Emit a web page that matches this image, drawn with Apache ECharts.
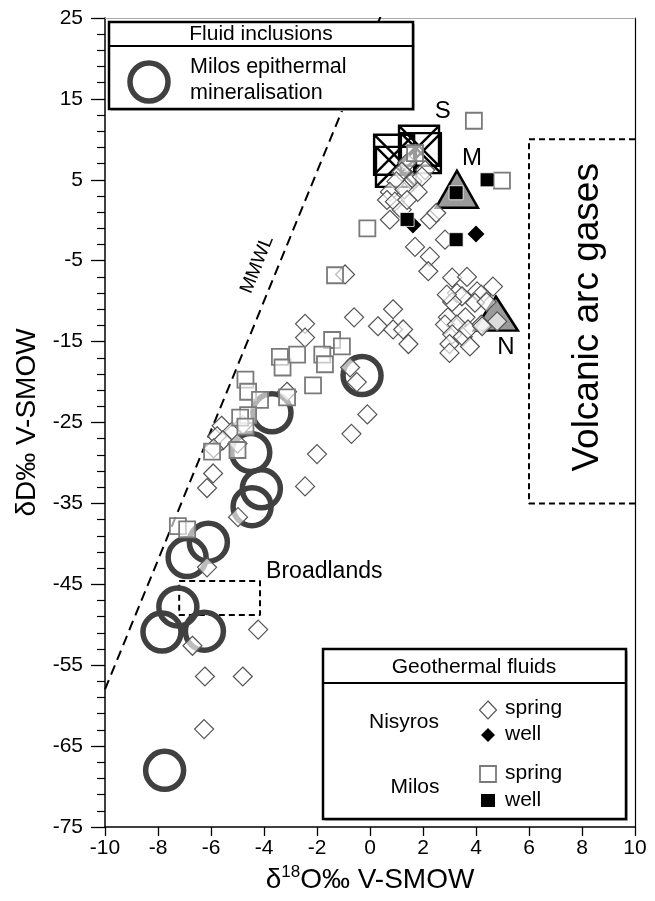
<!DOCTYPE html>
<html><head><meta charset="utf-8">
<script src="https://cdn.jsdelivr.net/npm/echarts@6/dist/echarts.min.js"></script>
<style>html,body{margin:0;padding:0;background:#fff}#c{width:655px;height:901px}</style>
</head><body><div id="c"></div>
<script>
// ---- data ----
const xTickLabels = [-10,-8,-6,-4,-2,0,2,4,6,8,10];
const yTickLabels = [-75,-65,-55,-45,-35,-25,-15,-5,5,15,25];

const fluidInclusions = [[-0.3,-19.2],[-3.7,-23.8],[-4.5,-28.7],[-4.1,-33.2],[-4.45,-35.4],[-6.1,-39.8],[-6.9,-41.7],[-7.25,-47.8],[-7.85,-50.9],[-6.25,-50.8],[-7.75,-68]];

const nisyrosSpring = [
 [1.4,7.1],[1.2,6.0],[2.08,6.2],[1.0,4.8],[1.6,4.8],[1.96,5.4],[0.75,3.5],[1.3,3.8],[1.8,3.5],[0.64,2.5],[0.94,2.3],[1.2,1.3],[1.4,2.5],[0.75,0.06],[2.26,0.06],[2.5,0.9],
 [2.83,-2.4],[1.7,-3.3],[2.26,-4.5],[2.2,-6.3],[-0.94,-6.7],[3.1,-7.1],[3.66,-7.0],[4.64,-8.2],[3.28,-9.0],[3.47,-9.4],[4.04,-8.8],[4.2,-9.2],[3.1,-10.1],[3.96,-10.2],[4.4,-10.1],[2.9,-9.2],
 [2.94,-12.0],[2.83,-12.9],[3.6,-12.0],[3.28,-12.9],[4.2,-12.9],[4.8,-12.5],[3.1,-14.1],[3.5,-14.4],[3.7,-13.5],[3.0,-15.3],[3.77,-15.6],[3.0,-16.4],[4.23,-13.1],
 [-0.6,-12.0],[0.87,-11.0],[0.3,-13.1],[0.87,-13.5],[1.25,-13.5],[1.45,-15.3],
 [-0.75,-18.2],[-0.5,-20.0],[-0.1,-24.0],[-0.7,-26.4],
 [-2.45,-12.8],[-2.45,-14.5],[-3.13,-21.2],[-2.0,-28.9],[-5.6,-25.4],[-5.2,-26.1],[-5.77,-26.7],[-4.8,-25.3],[-5.55,-27.2],[-5.0,-27.6],[-5.9,-28.2],
 [-5.92,-31.3],[-6.15,-33.1],[-2.45,-32.9],[-4.98,-36.7],[-6.15,-42.9],[-6.7,-52.6],[-4.22,-50.6],[-6.23,-56.4],[-4.8,-56.4],[-6.26,-62.9]
];
const nisyrosWell = [[1.62,-0.6],[4.0,-1.7]];
const milosSpring = [
 [3.92,12.3],[1.7,8.3],[4.98,4.9],[-0.1,-1.0],[-1.32,-6.8],
 [-3.4,-16.9],[-3.3,-18.2],[-2.75,-16.6],[-1.43,-14.8],[-1.8,-16.6],[-1.7,-17.8],[-1.06,-15.6],[-2.15,-20.4],[-3.13,-21.9],
 [-4.7,-19.7],[-4.6,-21.2],[-4.15,-22.2],[-4.6,-24.1],[-4.9,-24.4],[-4.7,-25.5],[-5.0,-28.4],[-5.96,-28.6],
 [-7.25,-37.8],[-6.9,-38.2]
];
const milosWell = [[4.42,5.0],[3.25,3.4],[1.4,0.1],[3.25,-2.4]];

const sSymbols = [[0.91,8.1],[0.98,6.6],[1.85,9.2],[1.92,8.3]];
const mTriangle = [[3.28,3.83]];
const nTriangle = [[4.75,-11.54]];
const mmwlLine = [[-10,-58],[0.4,25.2]];
const broadlandsBox = [[-7.2,-44.6],[-4.15,-44.6],[-4.15,-48.8],[-7.2,-48.8],[-7.2,-44.6]];
const volcanicBox = [[10,10],[6,10],[6,-35],[10,-35]];

const FONT = 'Liberation Sans, Arial, sans-serif';
const annotations = [
 {value:[2.75,13.4], text:'S', size:24, rotate:0, align:'center'},
 {value:[3.85,7.7], text:'M', size:24, rotate:0, align:'center'},
 {value:[5.13,-15.7], text:'N', size:24, rotate:0, align:'center'},
 {value:[-4.26,-5.5], text:'MMWL', size:19, rotate:68, align:'center'},
 {value:[-3.92,-43.4], text:'Broadlands', size:23, rotate:0, align:'left'},
 {value:[8.2,-12.0], text:'Volcanic arc gases', size:37, rotate:90, align:'center'}
];

const ringStyle = {color:'rgba(0,0,0,0)', borderColor:'#404040', borderWidth:5.5, opacity:1};
const openDiamond = {color:'rgba(255,255,255,0.65)', borderColor:'#555', borderWidth:1.2, opacity:1};
const openSquare = {color:'rgba(255,255,255,0.6)', borderColor:'#7a7a7a', borderWidth:1.8, opacity:1};

const chart = echarts.init(document.getElementById('c'), null, {renderer:'canvas'});
const option = {
  animation:false,
  backgroundColor:'#fff',
  grid:{left:105, right:20, top:18, bottom:74, containLabel:false, outerBoundsMode:'none'},
  xAxis:[{
    type:'value', min:-10, max:10, interval:2,
    name:'{a|δ}{s|18}{a|O‰ V-SMOW}', nameLocation:'middle', nameGap:36,
    nameTextStyle:{rich:{a:{fontSize:28, fontFamily:FONT, color:'#000', lineHeight:32}, s:{fontSize:17, fontFamily:FONT, color:'#000', verticalAlign:'top', lineHeight:20}}},
    axisLine:{onZero:false, lineStyle:{color:'#000', width:1.5}},
    axisTick:{inside:false, length:9, lineStyle:{color:'#000', width:1.3}},
    axisLabel:{fontSize:21, fontFamily:FONT, color:'#000', margin:11, formatter:v=>String(v)},
    splitLine:{show:false}
  },{
    type:'value', min:-10, max:10, position:'top',
    axisLine:{onZero:false, lineStyle:{color:'#aaa', width:1}},
    axisTick:{show:false}, axisLabel:{show:false}, splitLine:{show:false}
  }],
  yAxis:[{
    type:'value', min:-75, max:25, interval:10,
    name:'δD‰ V-SMOW', nameLocation:'middle', nameGap:64,
    nameTextStyle:{fontSize:28, fontFamily:FONT, color:'#000'},
    axisLine:{onZero:false, lineStyle:{color:'#000', width:1.5}},
    axisTick:{length:14, lineStyle:{color:'#000', width:1.3}},
    minorTick:{show:true, splitNumber:5, length:8, lineStyle:{color:'#000', width:1.2}},
    axisLabel:{fontSize:21, fontFamily:FONT, color:'#000', margin:22},
    splitLine:{show:false}, minorSplitLine:{show:false}
  },{
    type:'value', min:-75, max:25, position:'right',
    axisLine:{onZero:false, lineStyle:{color:'#000', width:1.2}},
    axisTick:{show:false}, axisLabel:{show:false}, splitLine:{show:false}
  }],
  series:[
    {type:'line', data:mmwlLine, symbol:'none', silent:true, lineStyle:{color:'#000', width:2, type:[10,6]}, z:1},
    {type:'line', data:broadlandsBox, symbol:'none', silent:true, lineStyle:{color:'#000', width:2, type:[6,4]}, z:1},
    {type:'line', data:volcanicBox, symbol:'none', silent:true, lineStyle:{color:'#000', width:2, type:[6,4]}, z:1},
    {type:'scatter', name:'Fluid inclusions', data:fluidInclusions, symbol:'circle', symbolSize:38, itemStyle:ringStyle, z:2},
    {type:'scatter', data:mTriangle, symbol:'triangle', symbolSize:[42,37], itemStyle:{color:'#9a9a9a', borderColor:'#000', borderWidth:2.5, opacity:1}, z:3},
    {type:'scatter', data:nTriangle, symbol:'triangle', symbolSize:[44,34], itemStyle:{color:'#9a9a9a', borderColor:'#000', borderWidth:2.5, opacity:1}, z:3},
    {type:'scatter', data:sSymbols, symbol:'path://M0,0H10V10H0Z M0,0L10,10 M10,0L0,10', symbolSize:[40,40], itemStyle:{color:'rgba(0,0,0,0)', borderColor:'#000', borderWidth:2.4, opacity:1}, z:3},
    {type:'scatter', name:'Nisyros spring', data:nisyrosSpring, symbol:'diamond', symbolSize:19, itemStyle:openDiamond, z:4},
    {type:'scatter', name:'Milos spring', data:milosSpring, symbol:'rect', symbolSize:16, itemStyle:openSquare, z:5},
    {type:'scatter', name:'Nisyros well', data:nisyrosWell, symbol:'diamond', symbolSize:17, itemStyle:{color:'#000', opacity:1}, z:6},
    {type:'scatter', name:'Milos well', data:milosWell, symbol:'rect', symbolSize:14, itemStyle:{color:'#000', borderColor:'#fff', borderWidth:0.8, opacity:1}, z:6},
    {type:'scatter', data:annotations.map(a=>({value:a.value, label:{show:true, formatter:a.text, fontSize:a.size, rotate:a.rotate, align:a.align, color:'#000'}})),
      symbol:'circle', symbolSize:1, itemStyle:{color:'rgba(0,0,0,0)', opacity:1}, silent:true, z:7,
      label:{show:true, position:'inside', color:'#000', opacity:1, fontFamily:FONT, verticalAlign:'middle'}}
  ],
  graphic:[
    // Fluid inclusions legend
    {type:'rect', z:100, shape:{x:111, y:24, width:304, height:87}, style:{fill:'#bbb'}},
    {type:'rect', z:101, shape:{x:109, y:22, width:304, height:87}, style:{fill:'#fff', stroke:'#000', lineWidth:2.5}},
    {type:'line', z:102, shape:{x1:109, y1:46, x2:413, y2:46}, style:{stroke:'#000', lineWidth:2}},
    {type:'text', z:102, x:261, y:34, style:{text:'Fluid inclusions', fontSize:21, fontFamily:FONT, fill:'#000', align:'center', verticalAlign:'middle'}},
    {type:'circle', z:102, shape:{cx:149, cy:82, r:19}, style:{fill:'none', stroke:'#404040', lineWidth:5.5}},
    {type:'text', z:102, x:190, y:67, style:{text:'Milos epithermal', fontSize:21.5, fontFamily:FONT, fill:'#000', align:'left', verticalAlign:'middle'}},
    {type:'text', z:102, x:190, y:93, style:{text:'mineralisation', fontSize:21.5, fontFamily:FONT, fill:'#000', align:'left', verticalAlign:'middle'}},
    // Geothermal fluids legend
    {type:'rect', z:100, shape:{x:325, y:651, width:303, height:170}, style:{fill:'#bbb'}},
    {type:'rect', z:101, shape:{x:323, y:649, width:303, height:170}, style:{fill:'#fff', stroke:'#000', lineWidth:2.5}},
    {type:'line', z:102, shape:{x1:323, y1:683, x2:626, y2:683}, style:{stroke:'#000', lineWidth:2}},
    {type:'text', z:102, x:474, y:667, style:{text:'Geothermal fluids', fontSize:21, fontFamily:FONT, fill:'#000', align:'center', verticalAlign:'middle'}},
    {type:'text', z:102, x:404, y:722, style:{text:'Nisyros', fontSize:21, fontFamily:FONT, fill:'#000', align:'center', verticalAlign:'middle'}},
    {type:'polygon', z:102, shape:{points:[[488,701],[496.5,710],[488,719],[479.5,710]]}, style:{fill:'#fff', stroke:'#555', lineWidth:1.2}},
    {type:'polygon', z:102, shape:{points:[[488,728],[495,735],[488,742],[481,735]]}, style:{fill:'#000'}},
    {type:'text', z:102, x:505, y:708, style:{text:'spring', fontSize:21, fontFamily:FONT, fill:'#000', align:'left', verticalAlign:'middle'}},
    {type:'text', z:102, x:505, y:734, style:{text:'well', fontSize:21, fontFamily:FONT, fill:'#000', align:'left', verticalAlign:'middle'}},
    {type:'text', z:102, x:415, y:787, style:{text:'Milos', fontSize:21, fontFamily:FONT, fill:'#000', align:'center', verticalAlign:'middle'}},
    {type:'rect', z:102, shape:{x:480, y:766, width:16, height:16}, style:{fill:'#fff', stroke:'#7a7a7a', lineWidth:1.8}},
    {type:'rect', z:102, shape:{x:481, y:794, width:14, height:13}, style:{fill:'#000'}},
    {type:'text', z:102, x:505, y:773, style:{text:'spring', fontSize:21, fontFamily:FONT, fill:'#000', align:'left', verticalAlign:'middle'}},
    {type:'text', z:102, x:505, y:800, style:{text:'well', fontSize:21, fontFamily:FONT, fill:'#000', align:'left', verticalAlign:'middle'}}
  ]
};
chart.setOption(option);
</script></body></html>
